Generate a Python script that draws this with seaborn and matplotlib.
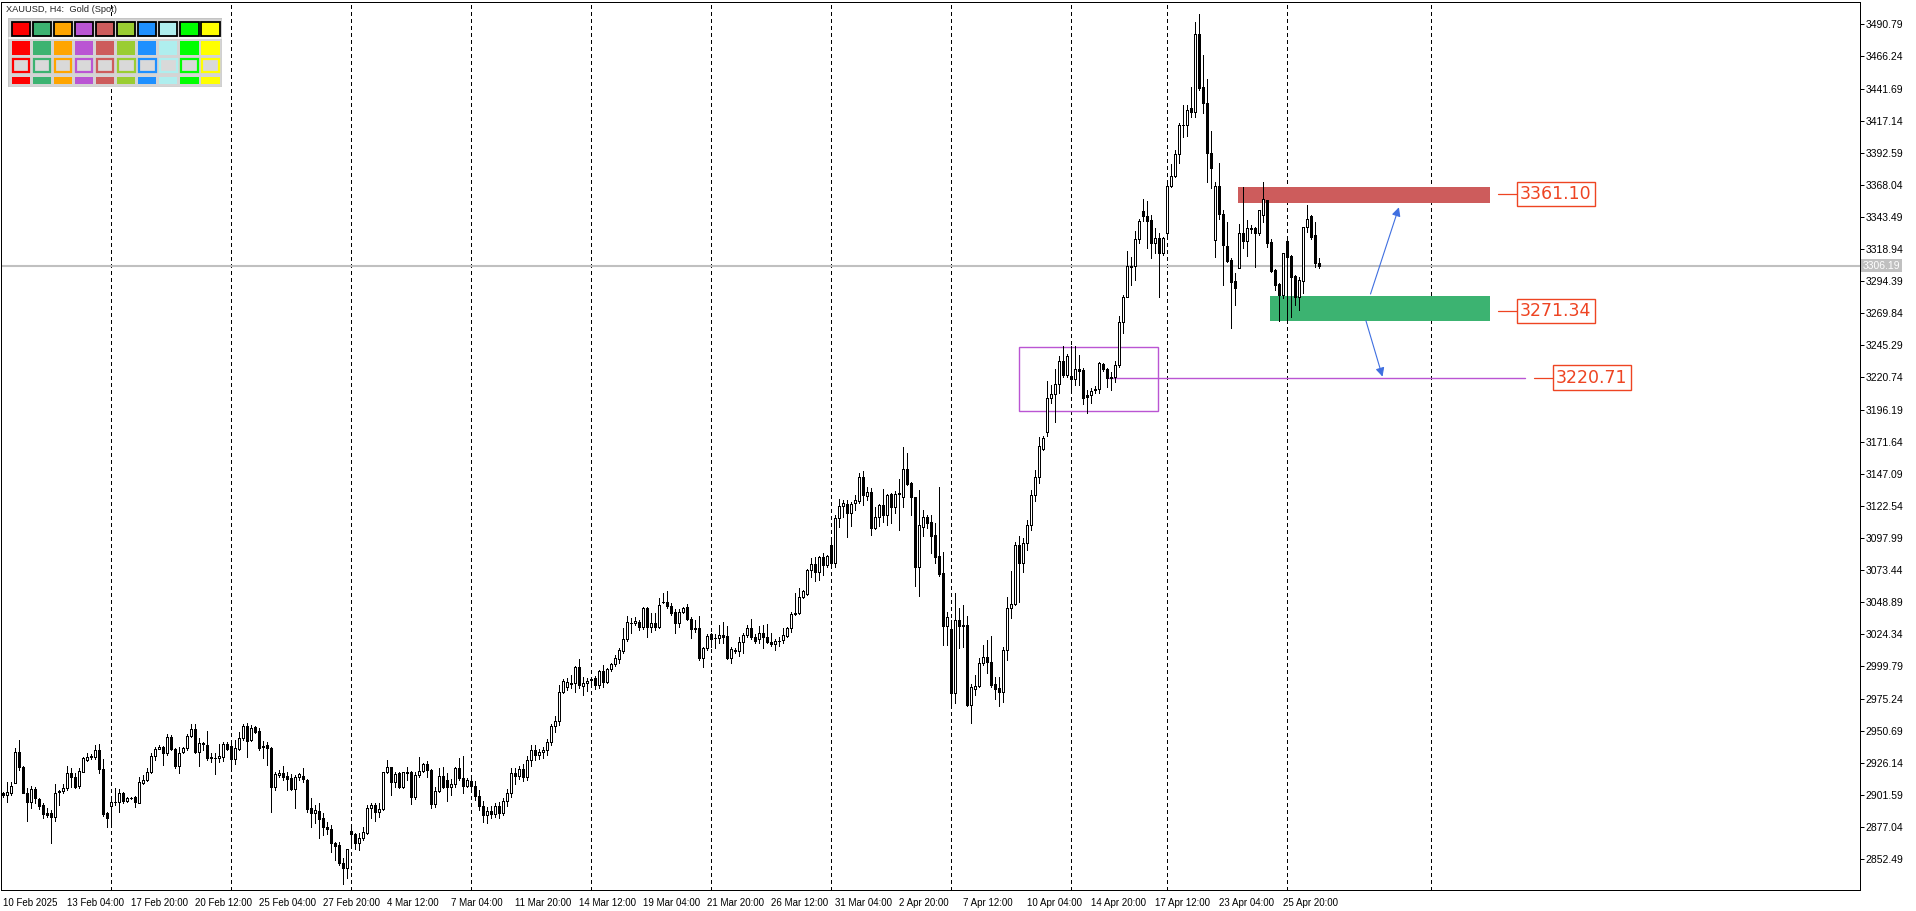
import numpy as np
import pandas as pd
import seaborn as sns
import matplotlib.pyplot as plt
from matplotlib.patches import Rectangle

sns.set_theme(style='white')
plt.rcParams['font.family'] = ['Liberation Sans', 'DejaVu Sans']

# H4 candles, XAUUSD, 10 Feb - 29 Apr 2025
opens = [
    2903.2, 2901.2, 2903.2, 2910.9, 2934.1, 2923.1, 2903.2, 2896.3, 2905.8, 2898.1,
    2893.8, 2887.4, 2887.4, 2884.9, 2903.5, 2904.7, 2906.5, 2918.0, 2915.5, 2908.3,
    2919.3, 2928.2, 2930.2, 2930.8, 2935.9, 2921.1, 2887.9, 2893.3, 2895.8, 2896.3,
    2902.7, 2897.1, 2899.1, 2899.6, 2895.6, 2910.9, 2912.6, 2919.0, 2931.5, 2936.6,
    2938.4, 2933.3, 2945.5, 2936.4, 2923.6, 2934.1, 2937.1, 2946.8, 2951.7, 2934.1,
    2940.4, 2939.7, 2930.2, 2929.7, 2929.5, 2930.8, 2940.2, 2939.2, 2928.7, 2936.4,
    2944.8, 2954.5, 2943.5, 2953.2, 2950.6, 2937.9, 2939.7, 2937.6, 2907.8, 2916.7,
    2918.5, 2916.0, 2914.2, 2906.0, 2914.9, 2916.0, 2912.9, 2891.2, 2887.4, 2889.2,
    2883.6, 2876.7, 2875.2, 2865.0, 2863.2, 2849.2, 2845.3, 2874.1, 2871.3, 2864.5,
    2868.3, 2872.1, 2891.2, 2893.8, 2888.7, 2890.5, 2918.8, 2922.6, 2911.6, 2918.0,
    2907.3, 2918.8, 2918.8, 2900.2, 2916.7, 2919.8, 2925.1, 2920.5, 2894.3, 2904.7,
    2916.0, 2912.9, 2907.8, 2909.8, 2921.8, 2914.2, 2908.6, 2912.0, 2908.0, 2901.0,
    2893.0, 2886.0, 2889.0, 2887.0, 2893.0, 2888.0, 2897.0, 2903.0, 2918.0, 2916.0,
    2921.0, 2915.0, 2928.0, 2936.0, 2932.0, 2934.0, 2936.0, 2942.0, 2954.0, 2958.0,
    2980.0, 2984.3, 2986.4, 2986.9, 2999.1, 2985.1, 2986.9, 2989.5, 2990.7, 2985.6,
    2996.6, 2988.2, 2997.8, 3001.4, 3005.5, 3011.9, 3020.5, 3033.1, 3032.8, 3033.5,
    3029.7, 3044.2, 3030.2, 3032.8, 3029.7, 3048.9, 3049.4, 3046.3, 3041.7, 3032.8,
    3041.7, 3045.0, 3035.8, 3028.2, 3029.4, 3006.5, 3013.6, 3024.3, 3021.8, 3021.8,
    3023.8, 3023.1, 3006.5, 3011.9, 3011.9, 3018.2, 3023.8, 3028.9, 3022.6, 3020.5,
    3025.6, 3022.6, 3018.7, 3016.7, 3019.0, 3020.0, 3023.3, 3029.4, 3039.9, 3040.4,
    3052.6, 3054.9, 3073.5, 3077.9, 3072.3, 3083.7, 3077.4, 3092.7, 3078.6, 3113.0,
    3122.5, 3124.0, 3116.9, 3124.5, 3126.3, 3144.4, 3130.4, 3133.4, 3105.9, 3113.8,
    3123.2, 3115.6, 3131.4, 3122.0, 3131.7, 3129.6, 3150.5, 3140.3, 3129.1, 3076.1,
    3106.7, 3114.3, 3110.0, 3100.3, 3084.3, 3071.0, 3031.0, 3028.5, 2979.2, 3035.3,
    3031.5, 3031.5, 2970.3, 2982.5, 2985.1, 3002.2, 3007.3, 3003.0, 2986.4, 2983.1,
    2980.5, 3012.1, 3044.2, 3047.6, 3092.7, 3079.2, 3094.0, 3108.0, 3131.0, 3145.0,
    3165.9, 3178.8, 3204.8, 3207.9, 3215.5, 3233.4, 3222.7, 3221.9, 3219.9, 3227.3,
    3226.5, 3207.4, 3207.1, 3211.5, 3211.7, 3231.1, 3227.3, 3220.0, 3221.4, 3230.3,
    3263.5, 3282.6, 3306.3, 3306.3, 3326.5, 3348.1, 3344.3, 3341.2, 3323.4, 3327.2,
    3315.7, 3331.0, 3367.5, 3375.1, 3391.4, 3413.7, 3413.9, 3426.6, 3424.0, 3483.5,
    3442.7, 3430.4, 3392.2, 3326.0, 3367.2, 3345.8, 3321.3, 3310.6, 3294.6, 3304.8,
    3331.0, 3325.4, 3334.6, 3334.8, 3331.0, 3345.0, 3356.5, 3324.1, 3303.0, 3292.0,
    3283.9, 3325.1, 3313.7, 3298.4, 3282.1, 3294.8, 3335.6, 3344.3, 3329.7, 3308.6,
]
highs = [
    2904.0, 2911.6, 2911.6, 2937.1, 2943.5, 2923.6, 2906.5, 2908.6, 2907.8, 2898.9,
    2895.0, 2891.2, 2889.9, 2909.8, 2905.3, 2909.6, 2923.6, 2921.8, 2918.5, 2921.8,
    2930.2, 2933.3, 2932.8, 2939.7, 2940.2, 2929.0, 2888.4, 2897.6, 2906.5, 2906.0,
    2904.0, 2900.2, 2900.2, 2900.7, 2915.5, 2916.7, 2921.8, 2933.8, 2937.9, 2939.7,
    2938.9, 2947.8, 2947.3, 2937.1, 2937.9, 2937.9, 2947.8, 2955.7, 2955.7, 2944.8,
    2942.2, 2950.6, 2933.3, 2933.3, 2940.4, 2942.2, 2942.2, 2942.7, 2943.5, 2949.9,
    2955.7, 2956.3, 2955.0, 2954.2, 2952.9, 2942.7, 2942.2, 2938.4, 2919.3, 2920.5,
    2923.6, 2919.3, 2917.2, 2916.7, 2918.5, 2921.8, 2913.4, 2898.9, 2893.8, 2895.0,
    2887.4, 2881.0, 2878.5, 2865.7, 2865.7, 2853.0, 2860.1, 2879.2, 2872.1, 2872.1,
    2877.2, 2893.8, 2895.6, 2895.0, 2895.0, 2919.3, 2928.2, 2923.1, 2919.3, 2919.3,
    2919.3, 2923.1, 2919.8, 2919.3, 2930.2, 2926.2, 2927.4, 2921.1, 2907.8, 2921.8,
    2923.1, 2918.0, 2913.4, 2923.1, 2929.5, 2931.3, 2914.2, 2916.0, 2912.0, 2905.0,
    2897.0, 2892.0, 2893.0, 2895.0, 2896.0, 2899.0, 2906.0, 2922.0, 2922.0, 2924.0,
    2925.0, 2931.0, 2940.0, 2940.0, 2937.0, 2938.0, 2944.0, 2956.0, 2962.0, 2985.6,
    2990.0, 2990.7, 2993.0, 3000.1, 3005.5, 2992.0, 2990.7, 2991.5, 2992.5, 2997.1,
    3000.9, 2998.3, 3002.2, 3008.5, 3013.6, 3028.9, 3038.4, 3036.6, 3037.9, 3035.3,
    3045.5, 3045.0, 3040.9, 3040.9, 3051.9, 3055.7, 3057.5, 3048.1, 3043.5, 3043.5,
    3045.5, 3047.3, 3037.9, 3035.3, 3038.4, 3014.9, 3024.6, 3025.6, 3024.6, 3031.5,
    3033.5, 3030.7, 3014.9, 3013.6, 3022.1, 3025.6, 3031.5, 3035.8, 3024.6, 3030.7,
    3031.5, 3032.0, 3025.1, 3020.5, 3022.6, 3028.9, 3030.2, 3041.7, 3055.7, 3059.5,
    3058.2, 3074.0, 3082.5, 3083.2, 3084.2, 3086.8, 3085.0, 3099.0, 3115.6, 3127.6,
    3127.1, 3127.1, 3125.8, 3130.9, 3148.0, 3149.2, 3137.3, 3136.0, 3122.0, 3124.0,
    3135.2, 3131.7, 3132.7, 3133.9, 3142.9, 3167.9, 3163.3, 3141.1, 3129.6, 3135.0,
    3119.4, 3115.6, 3115.6, 3109.8, 3137.3, 3087.6, 3041.7, 3035.3, 3056.2, 3044.2,
    3046.8, 3038.4, 2986.4, 2993.3, 3006.0, 3016.2, 3020.0, 3023.1, 2992.0, 2991.5,
    3014.9, 3053.2, 3073.1, 3095.2, 3099.6, 3098.0, 3112.0, 3135.0, 3150.0, 3175.0,
    3176.0, 3218.1, 3215.0, 3227.0, 3237.5, 3245.1, 3238.5, 3245.1, 3245.1, 3238.0,
    3227.8, 3211.2, 3212.5, 3214.5, 3232.9, 3232.1, 3228.3, 3225.2, 3233.4, 3267.8,
    3283.9, 3317.5, 3313.2, 3333.0, 3342.0, 3357.2, 3355.8, 3345.0, 3334.8, 3331.0,
    3328.0, 3368.5, 3383.8, 3394.7, 3415.1, 3429.2, 3429.2, 3442.7, 3492.9, 3498.7,
    3467.4, 3449.0, 3409.3, 3370.5, 3385.0, 3348.9, 3339.9, 3311.9, 3300.4, 3338.2,
    3366.2, 3341.2, 3337.4, 3336.1, 3349.0, 3370.5, 3356.5, 3326.7, 3303.5, 3292.8,
    3315.7, 3325.9, 3314.4, 3299.1, 3297.9, 3336.1, 3352.7, 3345.0, 3339.9, 3311.9,
]
lows = [
    2900.0, 2896.3, 2901.4, 2910.3, 2920.5, 2902.7, 2881.5, 2891.2, 2895.0, 2890.7,
    2884.1, 2884.9, 2864.5, 2881.5, 2893.8, 2903.2, 2905.3, 2907.8, 2906.5, 2907.0,
    2918.8, 2927.4, 2928.7, 2928.7, 2918.0, 2885.4, 2877.2, 2877.2, 2893.8, 2888.7,
    2895.0, 2896.3, 2898.1, 2892.5, 2895.0, 2909.8, 2912.1, 2918.0, 2928.2, 2936.4,
    2924.4, 2932.0, 2935.9, 2922.3, 2918.5, 2933.3, 2935.9, 2946.1, 2933.8, 2923.6,
    2935.9, 2928.2, 2926.9, 2917.2, 2926.4, 2927.4, 2935.9, 2921.8, 2925.1, 2935.9,
    2943.5, 2930.8, 2942.7, 2949.1, 2935.9, 2930.0, 2924.4, 2888.7, 2905.3, 2915.5,
    2912.9, 2905.3, 2905.3, 2891.2, 2912.9, 2911.6, 2888.7, 2877.2, 2880.3, 2868.3,
    2870.8, 2871.3, 2857.6, 2851.7, 2847.9, 2833.1, 2838.2, 2860.6, 2859.9, 2859.4,
    2867.0, 2871.6, 2883.6, 2881.5, 2884.9, 2890.0, 2918.0, 2901.4, 2907.8, 2906.5,
    2906.5, 2912.9, 2894.3, 2898.1, 2915.5, 2918.8, 2915.5, 2891.2, 2892.5, 2904.0,
    2906.5, 2896.8, 2901.4, 2907.8, 2912.9, 2902.7, 2907.8, 2905.0, 2898.0, 2890.0,
    2881.0, 2880.0, 2884.0, 2885.0, 2884.0, 2886.0, 2893.0, 2900.0, 2910.0, 2914.0,
    2912.0, 2913.0, 2924.0, 2928.0, 2929.0, 2930.0, 2932.0, 2940.0, 2950.0, 2955.0,
    2979.2, 2981.8, 2983.1, 2980.5, 2983.1, 2977.9, 2981.3, 2984.3, 2982.3, 2983.1,
    2984.3, 2986.9, 2996.6, 3000.1, 3002.7, 3010.3, 3019.5, 3025.1, 3031.5, 3027.7,
    3028.2, 3022.6, 3026.4, 3027.7, 3028.9, 3048.1, 3044.2, 3039.1, 3025.6, 3030.2,
    3040.4, 3035.3, 3021.3, 3026.4, 3004.7, 2999.6, 3012.4, 3014.9, 3013.6, 3017.5,
    3017.5, 3005.5, 3002.7, 3009.8, 3007.8, 3010.3, 3022.6, 3020.5, 3017.5, 3017.5,
    3013.6, 3017.5, 3015.4, 3012.4, 3015.4, 3017.5, 3022.6, 3026.4, 3039.1, 3039.9,
    3051.9, 3054.4, 3068.4, 3065.4, 3065.9, 3069.7, 3076.1, 3076.1, 3076.1, 3106.7,
    3114.3, 3099.0, 3107.2, 3119.4, 3124.5, 3123.2, 3127.1, 3100.3, 3104.6, 3107.2,
    3110.5, 3108.0, 3109.7, 3116.9, 3104.1, 3122.0, 3138.5, 3115.6, 3061.6, 3054.0,
    3099.6, 3105.4, 3086.8, 3078.7, 3069.0, 3016.2, 3016.2, 2969.1, 2971.6, 3013.7,
    3014.9, 2969.6, 2956.8, 2978.0, 2983.8, 3000.9, 2995.0, 2984.3, 2974.7, 2969.6,
    2972.9, 3004.7, 3036.6, 3046.8, 3049.4, 3072.0, 3089.0, 3104.0, 3126.0, 3140.0,
    3165.3, 3176.3, 3201.0, 3186.5, 3208.7, 3221.4, 3221.4, 3211.7, 3215.0, 3215.0,
    3200.5, 3193.4, 3201.0, 3209.2, 3208.7, 3225.7, 3213.7, 3211.2, 3217.6, 3229.1,
    3255.0, 3282.1, 3291.5, 3295.5, 3323.5, 3340.8, 3319.5, 3311.9, 3315.7, 3282.6,
    3314.4, 3329.7, 3366.2, 3374.4, 3385.1, 3404.9, 3405.4, 3420.2, 3420.2, 3440.6,
    3422.8, 3370.5, 3365.4, 3313.2, 3342.0, 3291.5, 3309.3, 3258.4, 3276.2, 3304.3,
    3319.6, 3313.7, 3331.0, 3305.5, 3329.7, 3340.0, 3320.8, 3301.7, 3287.7, 3264.2,
    3281.3, 3264.7, 3267.3, 3276.2, 3272.4, 3285.1, 3332.3, 3326.4, 3305.5, 3304.8,
]
closes = [
    2901.2, 2904.0, 2908.3, 2934.1, 2923.1, 2903.2, 2896.3, 2905.8, 2899.4, 2893.0,
    2886.6, 2886.1, 2884.9, 2903.2, 2904.5, 2907.0, 2918.0, 2915.5, 2907.8, 2919.8,
    2929.5, 2930.8, 2931.3, 2935.9, 2921.1, 2886.9, 2883.6, 2895.8, 2896.3, 2902.7,
    2897.1, 2898.9, 2899.4, 2895.8, 2911.1, 2912.9, 2919.3, 2931.5, 2936.6, 2938.4,
    2933.3, 2945.5, 2936.4, 2923.6, 2933.3, 2937.1, 2946.8, 2951.7, 2934.1, 2941.0,
    2941.0, 2929.5, 2929.5, 2930.0, 2931.5, 2940.2, 2936.4, 2928.7, 2937.1, 2945.3,
    2954.5, 2943.0, 2952.4, 2949.9, 2937.6, 2939.2, 2937.6, 2907.8, 2917.2, 2918.5,
    2915.5, 2913.4, 2906.0, 2914.9, 2917.2, 2913.4, 2890.7, 2887.4, 2890.0, 2883.1,
    2876.7, 2875.2, 2864.5, 2862.7, 2849.2, 2845.3, 2859.9, 2871.3, 2864.5, 2868.3,
    2872.9, 2891.2, 2893.8, 2888.7, 2890.5, 2918.8, 2922.6, 2911.6, 2917.5, 2907.3,
    2918.8, 2918.5, 2900.2, 2916.7, 2919.8, 2924.9, 2920.5, 2894.3, 2904.7, 2916.0,
    2907.8, 2907.8, 2909.8, 2921.8, 2914.2, 2908.6, 2912.9, 2908.0, 2901.0, 2893.0,
    2886.0, 2889.0, 2887.0, 2893.0, 2888.0, 2897.0, 2903.0, 2918.0, 2916.0, 2921.0,
    2915.0, 2928.0, 2936.0, 2932.0, 2934.0, 2936.0, 2942.0, 2954.0, 2958.0, 2980.0,
    2988.9, 2987.6, 2986.9, 2999.1, 2985.6, 2986.9, 2988.9, 2990.5, 2985.6, 2996.6,
    2988.2, 2997.8, 3001.4, 3006.0, 3012.4, 3020.5, 3033.5, 3033.3, 3034.5, 3029.7,
    3044.2, 3030.2, 3033.3, 3030.2, 3046.8, 3049.4, 3046.3, 3040.4, 3032.8, 3041.7,
    3044.2, 3035.8, 3028.2, 3029.4, 3006.5, 3013.6, 3023.1, 3020.5, 3021.6, 3023.8,
    3022.6, 3006.5, 3012.9, 3012.1, 3018.2, 3023.8, 3029.4, 3022.6, 3019.5, 3025.1,
    3022.6, 3018.7, 3016.7, 3019.2, 3019.5, 3023.8, 3029.4, 3039.9, 3040.9, 3052.6,
    3057.5, 3073.5, 3077.9, 3072.3, 3083.7, 3077.4, 3084.2, 3078.6, 3113.0, 3122.5,
    3124.5, 3116.9, 3124.0, 3127.1, 3144.4, 3130.9, 3133.4, 3105.9, 3113.8, 3123.2,
    3115.6, 3130.9, 3122.0, 3131.7, 3132.2, 3150.5, 3139.3, 3129.1, 3076.1, 3108.0,
    3113.8, 3109.8, 3099.8, 3083.8, 3070.3, 3031.0, 3037.4, 2979.2, 3035.3, 3031.0,
    3031.0, 2970.3, 2983.8, 2985.1, 3002.2, 3007.3, 3003.0, 2985.6, 2982.3, 2980.5,
    3012.4, 3044.2, 3047.6, 3092.7, 3079.2, 3094.0, 3108.0, 3131.0, 3145.0, 3168.0,
    3174.2, 3204.8, 3207.9, 3215.5, 3233.4, 3222.7, 3237.5, 3219.9, 3227.3, 3226.0,
    3205.4, 3206.1, 3210.5, 3211.8, 3232.1, 3227.0, 3220.6, 3220.8, 3230.3, 3263.5,
    3282.6, 3306.3, 3305.5, 3326.5, 3340.4, 3344.4, 3340.7, 3323.4, 3327.2, 3315.7,
    3327.2, 3367.5, 3375.1, 3391.4, 3413.9, 3414.1, 3425.3, 3424.0, 3483.5, 3441.9,
    3430.4, 3392.2, 3380.7, 3367.2, 3345.6, 3322.1, 3310.1, 3294.1, 3289.0, 3331.0,
    3325.4, 3334.8, 3335.0, 3331.0, 3348.9, 3357.0, 3323.9, 3302.5, 3291.5, 3283.9,
    3315.7, 3313.2, 3297.9, 3282.6, 3295.3, 3335.6, 3341.7, 3328.5, 3308.6, 3306.2,
]

time_labels = ['10 Feb 2025', '13 Feb 04:00', '17 Feb 20:00', '20 Feb 12:00', '25 Feb 04:00',
               '27 Feb 20:00', '4 Mar 12:00', '7 Mar 04:00', '11 Mar 20:00', '14 Mar 12:00',
               '19 Mar 04:00', '21 Mar 20:00', '26 Mar 12:00', '31 Mar 04:00', '2 Apr 20:00',
               '7 Apr 12:00', '10 Apr 04:00', '14 Apr 20:00', '17 Apr 12:00', '23 Apr 04:00',
               '25 Apr 20:00']
price_ticks = [2852.49, 2877.04, 2901.59, 2926.14, 2950.69, 2975.24, 2999.79, 3024.34,
               3048.89, 3073.44, 3097.99, 3122.54, 3147.09, 3171.64, 3196.19, 3220.74,
               3245.29, 3269.84, 3294.39, 3318.94, 3343.49, 3368.04, 3392.59, 3417.14,
               3441.69, 3466.24, 3490.79]
week_starts = [27, 57, 87, 117, 147, 177, 207, 237, 267, 291, 321, 357]
last_price = 3306.19

# drawn objects on the chart
resist_zone = (308.8, 371.8, 3354.5, 3366.2)
support_zone = (316.8, 371.8, 3264.2, 3283.1)
range_box = (253.9, 288.8, 3195.2, 3243.8)
target_line = (276.6, 380.6, 3220.71)
level_labels = [('3361.10', 3361.10, 373.8), ('3271.34', 3271.34, 373.8), ('3220.71', 3220.71, 382.8)]
arrow_up = ((341.9, 3284.6), (349.0, 3350.9))
arrow_down = ((340.75, 3264.2), (344.9, 3221.4))

palette = ['#FF0000', '#3CB371', '#FFA500', '#BA55D3', '#CD5C5C',
           '#9ACD32', '#1E90FF', '#AFEEEE', '#00FF00', '#FFFF00']

df = pd.DataFrame({'open': opens, 'high': highs, 'low': lows, 'close': closes})
df['bar'] = np.arange(len(df))
df['bull'] = df['close'] >= df['open']

W, H = 1916, 911
px = 0.72
fig = plt.figure(figsize=(W / 100, H / 100), dpi=100, facecolor='white')
ax = fig.add_axes([0.5 / W, 1 - 890 / H, 1859.5 / W, 888 / H])
ax.set_facecolor('white')

for x in week_starts:
    ax.axvline(x, color='black', lw=px, linestyle=(0, (4, 3)), antialiased=False, zorder=1)

red = '#EE4422'
x0, x1, y0, y1 = resist_zone
ax.add_patch(Rectangle((x0, y0), x1 - x0, y1 - y0, fc='#CD5C5C', ec='none', zorder=1.5))
x0, x1, y0, y1 = support_zone
ax.add_patch(Rectangle((x0, y0), x1 - x0, y1 - y0, fc='#3CB371', ec='none', zorder=1.5))
x0, x1, y0, y1 = range_box
ax.add_patch(Rectangle((x0, y0), x1 - x0, y1 - y0, fc='none', ec='#BA55D3', lw=1.0, zorder=1.6))
ax.plot([target_line[0], target_line[1]], [target_line[2]] * 2, color='#BA55D3', lw=1.0, zorder=1.6)

ax.axhline(last_price, color='#C0C0C0', lw=1.5, zorder=1.2)

# candles
ax.vlines(df['bar'], df['low'], df['high'], color='black', lw=px, antialiased=False, zorder=3)
bottom = df[['open', 'close']].min(axis=1)
height = (df['close'] - df['open']).abs()
ax.bar(df['bar'], height, bottom=bottom, width=0.62,
       color=np.where(df['bull'], 'white', 'black'), edgecolor='black',
       linewidth=px, antialiased=False, zorder=4)

for start, end in [arrow_up, arrow_down]:
    ax.annotate('', xy=end, xytext=start,
                arrowprops=dict(arrowstyle='-|>', color='#3F6FE0', lw=0.8,
                                mutation_scale=13, shrinkA=0, shrinkB=0), zorder=5)

for text, price, xs in level_labels:
    ax.plot([xs, xs + 5.5], [price, price], color=red, lw=0.9, zorder=5)
    ax.text(xs + 5.5, price, text, color=red, fontsize=12.5, ha='left', va='center', zorder=6,
            family='DejaVu Sans',
            bbox=dict(boxstyle='square,pad=0.18', fc='white', ec=red, lw=1.0))

ax.set_xlim(-0.675, 464.3)
ax.set_ylim(2828.8, 3507.9)

ax.yaxis.tick_right()
ax.set_yticks(price_ticks)
ax.set_yticklabels([f'{v:.2f}' for v in price_ticks])
ax.set_xticks(np.arange(len(time_labels)) * 16)
ax.set_xticklabels(time_labels, ha='left')
ax.tick_params(axis='y', direction='out', length=3, width=px, labelsize=7.5, pad=1, colors='black')
ax.tick_params(axis='x', direction='out', length=4, width=px, labelsize=7, pad=1.5, colors='black')
for s in ax.spines.values():
    s.set_color('black')
    s.set_linewidth(px)
ax.grid(False)

ax.text(1.0015, last_price, f'{last_price:.2f}', transform=ax.get_yaxis_transform(),
        color='white', fontsize=7.5, ha='left', va='center',
        bbox=dict(boxstyle='square,pad=0.15', fc='#C0C0C0', ec='none'))

fig.text(6 / W, 1 - 10 / H, 'XAUUSD, H4:  Gold (Spot)', fontsize=6.7, ha='left', va='center')

# colour palette panel
pw, ph = 213.7, 69.0
axp = fig.add_axes([8 / W, 1 - 87.3 / H, pw / W, ph / H])
axp.set_xlim(0, pw)
axp.set_ylim(ph, 0)
axp.axis('off')
axp.add_patch(Rectangle((0, 0), pw, ph, fc='#D4D4D4', ec='#C4C4C4', lw=1))
axp.plot([1, pw - 1], [19.7, 19.7], color='white', lw=1.2)
for j, c in enumerate(palette):
    cx = 3.7 + 21.07 * j
    axp.add_patch(Rectangle((cx, 3.4), 18.3, 14.3, fc=c, ec='black', lw=1.3))
    axp.add_patch(Rectangle((cx, 22.4), 18.3, 14.3, fc=c, ec='none'))
    axp.add_patch(Rectangle((cx + 0.8, 40.2), 16.7, 13.4, fc='#D9D9D9', ec=c, lw=1.6))
    axp.add_patch(Rectangle((cx, 58.4), 18.3, 7.6, fc=c, ec='none'))

fig.savefig('out.png', dpi=100, facecolor='white')
